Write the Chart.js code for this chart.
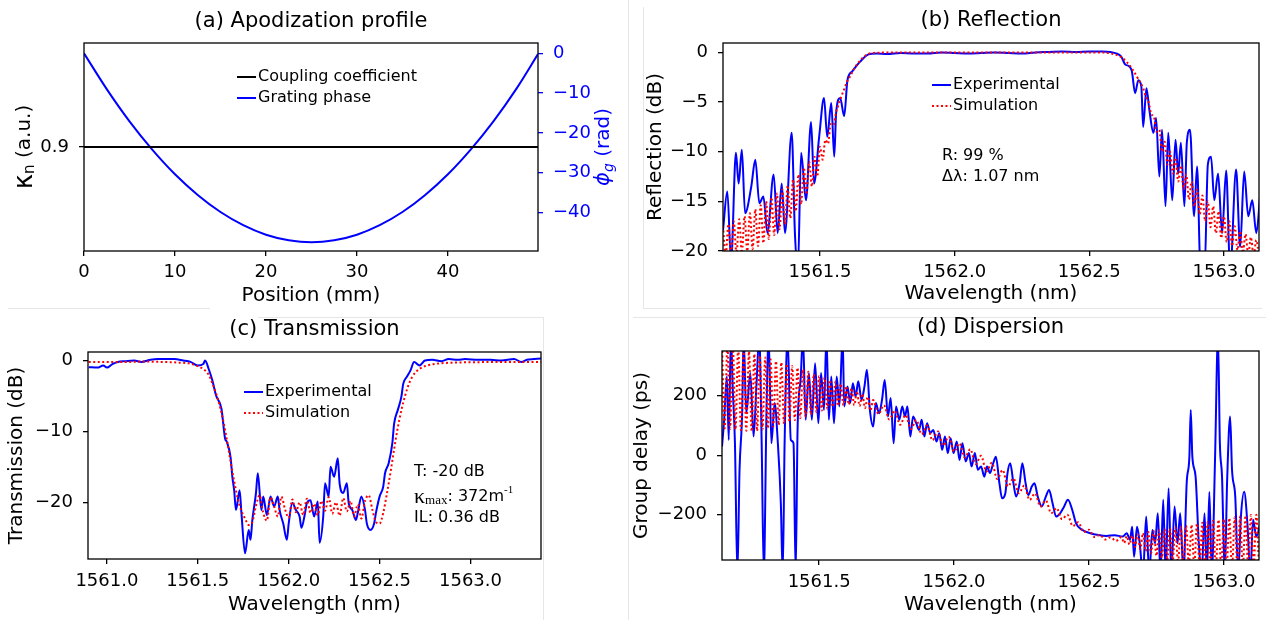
<!DOCTYPE html>
<html>
<head>
<meta charset="utf-8">
<script src="https://cdn.jsdelivr.net/npm/chart.js@4.4.1/dist/chart.umd.min.js"></script>
<style>
  body { margin: 0; background: #fff; width: 1266px; height: 620px; position: relative; overflow: hidden; }
  .panel { position: absolute; width: 633px; height: 310px; }
  .sep { position: absolute; background: #e6e6e6; }
</style>
</head>
<body>
<div class="sep" style="left:628px;top:0;width:1px;height:620px"></div>
<div class="sep" style="left:643px;top:7px;width:1px;height:301px"></div>
<div class="sep" style="left:643px;top:308px;width:619px;height:1px"></div>
<div class="sep" style="left:633px;top:317px;width:633px;height:1px"></div>
<div class="sep" style="left:8px;top:308px;width:202px;height:1px"></div>
<div class="sep" style="left:258px;top:317px;width:285px;height:1px"></div>
<div class="sep" style="left:543px;top:317px;width:1px;height:303px"></div>

<div class="panel" style="left:0;top:0"><canvas id="pa" width="633" height="310"></canvas></div>
<div class="panel" style="left:633px;top:0"><canvas id="pb" width="633" height="310"></canvas></div>
<div class="panel" style="left:0;top:310px"><canvas id="pc" width="633" height="310"></canvas></div>
<div class="panel" style="left:633px;top:310px"><canvas id="pd" width="633" height="310"></canvas></div>

<script>
// ---- (a) apodization profile ----
const posMm = [0, 2.5, 5, 7.5, 10, 12.5, 15, 17.5, 20, 22.5, 25, 27.5, 30, 32.5, 35, 37.5, 40, 42.5, 45, 47.5, 49.9];
const phaseRad = [0, -9.0, -17.1, -24.2, -30.4, -35.6, -39.9, -43.2, -45.6, -47.0, -47.5, -47.0, -45.6, -43.2, -39.9, -35.6, -30.4, -24.2, -17.1, -9.0, -0.2];
const kappaPos = [0, 49.9];
const kappaVal = [0.9, 0.9];
const kappaTicks = [0.9];
const posTicks = [0, 10, 20, 30, 40];

// ---- (b) reflection ----
const reflExpWl = [
  1561.14, 1561.156, 1561.17, 1561.188, 1561.198, 1561.21, 1561.222, 1561.245, 1561.26, 1561.275, 1561.29,
  1561.305, 1561.328, 1561.343, 1561.358, 1561.37, 1561.395, 1561.407, 1561.418, 1561.43, 1561.448,
  1561.467, 1561.478, 1561.497, 1561.515, 1561.527, 1561.542, 1561.553, 1561.56, 1561.575, 1561.59,
  1561.602, 1561.62, 1561.65, 1561.68, 1561.71, 1561.75, 1561.80, 1561.85, 1561.90, 1561.95,
  1562.00, 1562.05, 1562.10, 1562.15, 1562.20, 1562.25, 1562.30, 1562.35, 1562.40, 1562.45,
  1562.50, 1562.55, 1562.60, 1562.618, 1562.633, 1562.648, 1562.658, 1562.67, 1562.682, 1562.693,
  1562.70, 1562.712, 1562.723, 1562.738, 1562.748, 1562.76, 1562.77, 1562.783, 1562.793, 1562.808,
  1562.82, 1562.83, 1562.84, 1562.853, 1562.862, 1562.874, 1562.889, 1562.90, 1562.913, 1562.928,
  1562.94, 1562.952, 1562.964, 1562.978, 1562.993, 1563.008, 1563.023, 1563.045, 1563.06, 1563.075,
  1563.09, 1563.105, 1563.12, 1563.135];
const reflExpDb = [
  -17.9, -14.0, -21, -10.1, -13.2, -9.8, -16.2, -13.5, -10.8, -15.2, -14.5,
  -18.2, -12.3, -18.2, -13.2, -18.2, -8.1, -18.2, -22, -10.1, -14.9,
  -7.0, -13.2, -8.5, -4.6, -8.5, -5.1, -10.5, -6.1, -4.6, -6.4,
  -2.8, -1.9, -0.9, -0.2, -0.1, -0.15, -0.05, -0.1, -0.1, 0,
  -0.05, -0.1, -0.05, 0, -0.05, -0.1, 0, 0.05, 0.1, 0.05,
  0.1, 0.1, -0.1, -0.4, -1.2, -1.4, -1.9, -4.1, -2.8, -3.4,
  -7.5, -3.6, -5.8, -8.1, -6.6, -12.5, -7.8, -15.5, -8.1, -14.9,
  -8.8, -12.2, -9.1, -15.5, -9.1, -7.8, -16.5, -11.5, -22, -22,
  -11.3, -10.5, -14.9, -12.2, -18.2, -11.9, -22, -11.8, -19.6, -12.0,
  -16.5, -14.9, -18.2, -14.2];
const reflSimWl = [
  1561.14, 1561.15, 1561.16, 1561.17, 1561.18, 1561.19, 1561.20, 1561.21, 1561.22, 1561.23,
  1561.24, 1561.25, 1561.26, 1561.27, 1561.28, 1561.29, 1561.30, 1561.31, 1561.32, 1561.33,
  1561.34, 1561.35, 1561.36, 1561.37, 1561.38, 1561.39, 1561.40, 1561.41, 1561.42, 1561.43,
  1561.44, 1561.45, 1561.46, 1561.47, 1561.48, 1561.49, 1561.50, 1561.51, 1561.52, 1561.53,
  1561.54, 1561.55, 1561.56, 1561.57, 1561.58, 1561.59, 1561.60, 1561.61, 1561.62, 1561.63,
  1561.64, 1561.65, 1561.66, 1561.67, 1561.68, 1561.70, 1561.80, 1562.00, 1562.20, 1562.40,
  1562.55, 1562.58, 1562.60, 1562.62, 1562.64, 1562.66, 1562.68, 1562.70, 1562.71, 1562.72,
  1562.73, 1562.74, 1562.75, 1562.76, 1562.77, 1562.78, 1562.79, 1562.80, 1562.81, 1562.82,
  1562.83, 1562.84, 1562.85, 1562.86, 1562.87, 1562.88, 1562.89, 1562.90, 1562.91, 1562.92,
  1562.93, 1562.94, 1562.95, 1562.96, 1562.97, 1562.98, 1562.99, 1563.00, 1563.01, 1563.02,
  1563.03, 1563.04, 1563.05, 1563.06, 1563.07, 1563.08, 1563.09, 1563.10, 1563.11, 1563.12,
  1563.13];
const reflSimDb = [
  -17.5, -20.5, -17.3, -20.4, -17.0, -20.3, -16.8, -20.2, -16.5, -20.0,
  -16.2, -19.8, -15.8, -19.5, -15.4, -19.2, -15.0, -18.8, -14.6, -18.4,
  -14.2, -17.8, -13.8, -17.3, -13.4, -16.7, -12.8, -16.0, -12.3, -15.3,
  -11.6, -14.3, -11.0, -13.5, -10.5, -12.5, -9.5, -10.8, -8.8, -9.2,
  -7.2, -7.3, -6.0, -5.2, -4.4, -3.7, -3.0, -2.5, -2.0, -1.5,
  -1.1, -0.8, -0.5, -0.3, -0.15, -0.05, 0, 0, 0, 0,
  0, -0.1, -0.25, -0.5, -1.0, -1.7, -2.6, -3.6, -4.5, -5.0,
  -6.2, -6.5, -8.0, -7.8, -10.0, -9.0, -11.3, -10.0, -12.2, -10.6,
  -13.0, -11.4, -13.8, -12.3, -14.8, -13.0, -15.5, -13.8, -16.3, -14.4,
  -17.0, -15.0, -17.6, -15.5, -18.2, -16.0, -18.7, -16.5, -19.1, -17.0,
  -19.5, -17.5, -19.9, -18.0, -20.2, -18.3, -20.4, -18.6, -20.5, -18.9,
  -20.6];

// ---- (c) transmission ----
const transExpWl = [
  1560.90, 1560.948, 1560.98, 1561.00, 1561.03, 1561.06, 1561.10, 1561.15, 1561.19, 1561.24,
  1561.28, 1561.33, 1561.37, 1561.42, 1561.46, 1561.50, 1561.53, 1561.54, 1561.56, 1561.58,
  1561.60, 1561.63, 1561.65, 1561.66, 1561.68, 1561.69, 1561.70, 1561.71, 1561.73, 1561.74,
  1561.76, 1561.78, 1561.79, 1561.80, 1561.82, 1561.83, 1561.85, 1561.86, 1561.88, 1561.90,
  1561.92, 1561.94, 1561.95, 1561.97, 1561.99, 1562.00, 1562.02, 1562.04, 1562.06, 1562.07,
  1562.09, 1562.10, 1562.12, 1562.14, 1562.16, 1562.17, 1562.19, 1562.20, 1562.22, 1562.23,
  1562.25, 1562.27, 1562.28, 1562.30, 1562.32, 1562.33, 1562.35, 1562.37, 1562.38, 1562.40,
  1562.42, 1562.43, 1562.45, 1562.47, 1562.48, 1562.50, 1562.52, 1562.53, 1562.55, 1562.57,
  1562.58, 1562.60, 1562.62, 1562.63, 1562.65, 1562.67, 1562.69, 1562.72, 1562.75, 1562.79,
  1562.84, 1562.88, 1562.93, 1562.97, 1563.04, 1563.11, 1563.17, 1563.24, 1563.28, 1563.31,
  1563.35, 1563.39];
const transExpDb = [
  -0.94, -1.0, -0.7, -1.0, -0.5, -0.2, -0.1, 0, -0.2, 0.1,
  0.2, 0.2, 0.2, 0, -0.2, -0.7, -0.5, 0, -1.2, -2.8,
  -4.9, -6.8, -11.0, -11.5, -13.6, -16.4, -18.3, -21.1, -18.3, -21.5,
  -27.2, -23.9, -25.3, -22.5, -18.7, -15.9, -21.1, -19.2, -21.8, -19.2,
  -20.6, -19.2, -21.1, -23.0, -25.3, -23.0, -20.1, -21.1, -22.0, -23.6,
  -21.5, -20.1, -19.7, -22.0, -19.9, -25.7, -22.0, -17.3, -19.2, -15.0,
  -16.4, -13.8, -17.3, -18.7, -17.3, -20.1, -21.1, -22.5, -21.5, -19.2,
  -21.1, -23.0, -23.9, -23.0, -21.5, -19.2, -17.8, -15.9, -14.5, -11.7,
  -8.9, -7.0, -5.1, -3.3, -2.3, -1.4, -0.2, -0.7, 0, 0.1,
  -0.1, 0.2, 0.1, 0.2, 0.1, 0.1, 0, 0.2, -0.2, 0.1,
  0.2, 0.3];
const transSimWl = [
  1560.90, 1561.00, 1561.10, 1561.20, 1561.30, 1561.40, 1561.45, 1561.50, 1561.53, 1561.56,
  1561.58, 1561.60, 1561.62, 1561.64, 1561.66, 1561.68, 1561.70, 1561.72, 1561.74, 1561.76,
  1561.78, 1561.80, 1561.82, 1561.84, 1561.86, 1561.88, 1561.90, 1561.92, 1561.94, 1561.96,
  1561.98, 1562.00, 1562.02, 1562.04, 1562.06, 1562.08, 1562.10, 1562.12, 1562.14, 1562.16,
  1562.18, 1562.20, 1562.22, 1562.24, 1562.26, 1562.28, 1562.30, 1562.32, 1562.34, 1562.36,
  1562.38, 1562.40, 1562.42, 1562.44, 1562.46, 1562.48, 1562.50, 1562.52, 1562.54, 1562.56,
  1562.58, 1562.60, 1562.62, 1562.64, 1562.66, 1562.68, 1562.70, 1562.74, 1562.80, 1562.90,
  1563.00, 1563.20, 1563.39];
const transSimDb = [
  -0.2, -0.2, -0.2, -0.15, -0.2, -0.3, -0.4, -0.8, -1.2, -2.0,
  -3.2, -4.6, -6.3, -8.5, -11.2, -14.2, -17.0, -19.5, -21.2, -22.3,
  -23.2, -22.8, -20.5, -19.0, -21.5, -22.6, -19.3, -20.6, -22.0, -19.2,
  -21.0, -22.2, -19.6, -21.4, -20.0, -21.8, -19.5, -21.5, -20.2, -21.8,
  -19.8, -21.2, -19.3, -21.6, -20.0, -21.9, -19.4, -21.3, -19.8, -22.0,
  -20.3, -22.3, -19.8, -19.0, -21.0, -22.8, -23.0, -21.5, -18.8, -15.8,
  -12.5, -9.5, -7.0, -5.0, -3.4, -2.3, -1.6, -0.9, -0.5, -0.3,
  -0.25, -0.2, -0.2];

// ---- (d) dispersion ----
const dispExpWl = [
  1561.14, 1561.148, 1561.158, 1561.165, 1561.173, 1561.18, 1561.188, 1561.197, 1561.205, 1561.215,
  1561.22, 1561.23, 1561.245, 1561.257, 1561.268, 1561.278, 1561.287, 1561.295, 1561.305, 1561.313,
  1561.323, 1561.335, 1561.347, 1561.358, 1561.365, 1561.372, 1561.383, 1561.395, 1561.405, 1561.413,
  1561.42, 1561.432, 1561.44, 1561.45, 1561.462, 1561.473, 1561.485, 1561.497, 1561.507, 1561.518,
  1561.527, 1561.536, 1561.545, 1561.555, 1561.565, 1561.575, 1561.587, 1561.593, 1561.605, 1561.615,
  1561.625, 1561.635, 1561.645, 1561.657, 1561.668, 1561.677, 1561.688, 1561.70, 1561.71, 1561.722,
  1561.733, 1561.743, 1561.755, 1561.765, 1561.776, 1561.785, 1561.797, 1561.808, 1561.818, 1561.827,
  1561.838, 1561.848, 1561.86, 1561.87, 1561.88, 1561.89, 1561.90, 1561.912, 1561.923, 1561.935,
  1561.945, 1561.956, 1561.966, 1561.977, 1561.987, 1561.998, 1562.01, 1562.02, 1562.031, 1562.043,
  1562.055, 1562.065, 1562.077, 1562.088, 1562.10, 1562.112, 1562.122, 1562.133, 1562.145, 1562.155,
  1562.168, 1562.178, 1562.19, 1562.198, 1562.208, 1562.22, 1562.23, 1562.243, 1562.253, 1562.265,
  1562.275, 1562.288, 1562.298, 1562.31, 1562.325, 1562.34, 1562.352, 1562.365, 1562.378, 1562.393,
  1562.408, 1562.422, 1562.438, 1562.452, 1562.475, 1562.505, 1562.535, 1562.565, 1562.595, 1562.625,
  1562.64, 1562.652, 1562.66, 1562.667, 1562.678, 1562.688, 1562.70, 1562.712, 1562.723, 1562.735,
  1562.745, 1562.755, 1562.765, 1562.775, 1562.784, 1562.795, 1562.805, 1562.817, 1562.828, 1562.838,
  1562.85, 1562.862, 1562.872, 1562.877, 1562.883, 1562.895, 1562.907, 1562.918, 1562.928, 1562.937,
  1562.946, 1562.955, 1562.967, 1562.978, 1562.985, 1562.993, 1563.003, 1563.012, 1563.023, 1563.03,
  1563.042, 1563.053, 1563.063, 1563.075, 1563.087, 1563.098, 1563.108, 1563.12, 1563.135];
const dispExpPs = [
  29, 119, 264, 51, 400, 220, 40, -400, -49, 152,
  400, 141, 276, 63, 242, 400, 40, -400, 152, 400,
  40, 175, 40, -161, -400, 40, 400, 51, 40, -400,
  85, 264, 400, 119, 276, 119, 309, 107, 276, 152,
  400, 119, 264, 107, 264, 164, 400, 164, 231, 175,
  242, 197, 248, 186, 231, 287, 152, 96, 175, 141,
  186, 253, 130, 192, 40, 164, 119, 164, 130, 164,
  63, 130, 107, 85, 119, 63, 107, 74, 85, 46,
  74, 18, 63, 7, 57, 7, 46, -16, 40, -21,
  7, -38, 7, -49, -38, -72, -38, -60, -27, -5,
  -94, -145, -128, -60, -27, -94, -139, -94, -27, -94,
  -134, -105, -94, -139, -172, -139, -117, -161, -206, -195,
  -172, -150, -184, -229, -251, -262, -268, -271, -269, -273,
  -262, -284, -240, -341, -240, -296, -400, -206, -400, -251,
  -296, -195, -400, -150, -400, -111, -400, -172, -296, -195,
  -400, -94, -5, 152, -5, -72, -296, -400, -195, -400,
  -123, -400, -16, 400, 40, -72, -400, -83, 130, -49,
  -139, -400, -206, -123, -229, -400, -217, -273, -229];
const dispSimWl = [
  1561.14, 1561.15, 1561.16, 1561.17, 1561.18, 1561.19, 1561.20, 1561.21, 1561.22, 1561.23,
  1561.24, 1561.25, 1561.26, 1561.27, 1561.28, 1561.29, 1561.30, 1561.31, 1561.32, 1561.33,
  1561.34, 1561.35, 1561.36, 1561.37, 1561.38, 1561.39, 1561.40, 1561.41, 1561.42, 1561.43,
  1561.44, 1561.45, 1561.46, 1561.47, 1561.48, 1561.49, 1561.50, 1561.51, 1561.52, 1561.53,
  1561.54, 1561.55, 1561.56, 1561.57, 1561.58, 1561.59, 1561.60, 1561.61, 1561.62, 1561.63,
  1561.64, 1561.65, 1561.66, 1561.67, 1561.68, 1561.69, 1561.70, 1561.72, 1561.74, 1561.76,
  1561.78, 1561.80, 1561.82, 1561.84, 1561.86, 1561.88, 1561.90, 1561.92, 1561.94, 1561.96,
  1561.98, 1562.00, 1562.02, 1562.04, 1562.06, 1562.08, 1562.10, 1562.12, 1562.14, 1562.16,
  1562.18, 1562.20, 1562.22, 1562.24, 1562.26, 1562.28, 1562.30, 1562.32, 1562.34, 1562.36,
  1562.38, 1562.40, 1562.42, 1562.44, 1562.46, 1562.48, 1562.50, 1562.52, 1562.54, 1562.56,
  1562.58, 1562.60, 1562.62, 1562.63, 1562.64, 1562.65, 1562.66, 1562.67, 1562.68, 1562.69,
  1562.70, 1562.71, 1562.72, 1562.73, 1562.74, 1562.75, 1562.76, 1562.77, 1562.78, 1562.79,
  1562.80, 1562.81, 1562.82, 1562.83, 1562.84, 1562.85, 1562.86, 1562.87, 1562.88, 1562.89,
  1562.90, 1562.91, 1562.92, 1562.93, 1562.94, 1562.95, 1562.96, 1562.97, 1562.98, 1562.99,
  1563.00, 1563.01, 1563.02, 1563.03, 1563.04, 1563.05, 1563.06, 1563.07, 1563.08, 1563.09,
  1563.10, 1563.11, 1563.12, 1563.13];
const dispSimPs = [
  380, 90, 375, 88, 370, 86, 362, 84, 355, 82,
  348, 80, 340, 82, 334, 86, 328, 90, 322, 96,
  316, 102, 312, 106, 306, 112, 300, 118, 294, 124,
  288, 130, 280, 136, 272, 145, 266, 150, 260, 156,
  252, 162, 246, 166, 240, 168, 232, 170, 225, 168,
  215, 165, 206, 158, 196, 150, 185, 138, 168, 120,
  150, 102, 135, 88, 118, 70, 100, 50, 80, 32,
  62, 12, 40, -8, 20, -30, -2, -55, -25, -80,
  -50, -105, -78, -128, -102, -150, -128, -172, -152, -195,
  -178, -215, -200, -238, -225, -258, -250, -275, -268, -283,
  -276, -288, -275, -295, -272, -300, -270, -308, -266, -315,
  -262, -322, -258, -330, -255, -338, -252, -345, -248, -352,
  -246, -358, -243, -362, -240, -366, -237, -370, -234, -373,
  -230, -376, -227, -378, -224, -380, -220, -380, -217, -380,
  -214, -380, -211, -380, -208, -380, -205, -380, -203, -380,
  -201, -380, -200, -380];

// ---------------------------------------------------------------
Chart.defaults.font.family = '"DejaVu Sans", sans-serif';
Chart.defaults.color = '#000';

const BLUE = '#0000ff';
const RED = '#ff0000';
const NOTE_FONT = '16px "DejaVu Sans"';

const fmt = (v, d) => (v < 0 ? '\u2212' : '') + Math.abs(v).toFixed(d);
const pts = (xs, ys) => xs.map((x, i) => ({ x: x, y: ys[i] }));

// text made of several runs (sub/superscripts), optionally rotated
function drawRuns(ctx, x, y, parts, rot, align) {
  ctx.save();
  ctx.translate(x, y);
  if (rot) ctx.rotate(rot);
  ctx.textBaseline = 'middle';
  ctx.textAlign = 'left';
  let w = 0;
  parts.forEach(p => { ctx.font = p.f || NOTE_FONT; w += ctx.measureText(p.t).width; });
  let cx = align === 'center' ? -w / 2 : 0;
  parts.forEach(p => {
    ctx.font = p.f || NOTE_FONT;
    ctx.fillStyle = p.c || '#000';
    ctx.fillText(p.t, cx, p.dy || 0);
    cx += ctx.measureText(p.t).width;
  });
  ctx.restore();
}

// frame, panel title, legend and notes
function decor(o) {
  return {
    id: 'decor',
    afterDraw(chart) {
      const ctx = chart.ctx, a = chart.chartArea;
      ctx.save();
      ctx.strokeStyle = '#000';
      ctx.lineWidth = 1.3;
      ctx.strokeRect(a.left, a.top, a.right - a.left, a.bottom - a.top);

      ctx.fillStyle = '#000';
      ctx.font = '21px "DejaVu Sans"';
      ctx.textAlign = 'center';
      ctx.textBaseline = 'middle';
      ctx.fillText(o.title, (a.left + a.right) / 2, o.titleY);

      (o.legend || []).forEach((dsIndex, i) => {
        const ds = chart.data.datasets[dsIndex];
        const y = o.legY[i];
        ctx.strokeStyle = ds.borderColor;
        ctx.lineWidth = ds.borderWidth;
        ctx.setLineDash(ds.borderDash || []);
        ctx.beginPath();
        ctx.moveTo(o.legX, y);
        ctx.lineTo(o.legX + 19, y);
        ctx.stroke();
        ctx.setLineDash([]);
        ctx.fillStyle = '#000';
        ctx.font = NOTE_FONT;
        ctx.textAlign = 'left';
        ctx.fillText(ds.label, o.legX + 21, y);
      });

      (o.notes || []).forEach(n => drawRuns(ctx, n.x, n.y, n.parts, 0, 'left'));
      (o.extra || []).forEach(fn => fn(ctx, a));
      ctx.restore();
    }
  };
}

function axis(o) {
  const s = {
    type: 'linear',
    position: o.pos,
    min: o.min,
    max: o.max,
    ticks: {
      stepSize: o.step, includeBounds: false, autoSkip: false, maxRotation: 0,
      color: o.color || '#000', font: { size: 18 }, padding: o.pad,
      callback: v => fmt(v, o.dec)
    },
    grid: { drawOnChartArea: false, color: o.color || '#000', lineWidth: 1.3, tickLength: 5 },
    border: { display: false },
    title: o.title
      ? { display: true, text: o.title, color: '#000', font: { size: 20 }, padding: o.tpad }
      : { display: false },
    afterFit: sc => { if (sc.isHorizontal()) sc.height = o.size; else sc.width = o.size; }
  };
  if (o.tickList) s.afterBuildTicks = sc => { sc.ticks = o.tickList.map(v => ({ value: v })); };
  return s;
}

function panel(id, cfg) {
  return new Chart(document.getElementById(id), {
    type: 'line',
    data: { datasets: cfg.datasets },
    options: {
      responsive: false,
      animation: false,
      events: [],
      layout: { padding: cfg.padding },
      plugins: { legend: { display: false }, tooltip: { enabled: false } },
      elements: {
        point: { radius: 0 },
        line: { cubicInterpolationMode: 'monotone', borderCapStyle: 'butt', fill: false }
      },
      scales: cfg.scales
    },
    plugins: [decor(cfg.decor)]
  });
}

const expSet = (xs, ys) => ({ label: 'Experimental', data: pts(xs, ys), borderColor: BLUE, borderWidth: 2, order: 2 });
const simSet = (xs, ys) => ({ label: 'Simulation', data: pts(xs, ys), borderColor: RED, borderWidth: 2, borderDash: [2, 2.5], order: 1 });

// (a)
panel('pa', {
  padding: { left: 0, top: 43, right: 0, bottom: 0 },
  datasets: [
    { label: 'Coupling coefficient', data: pts(kappaPos, kappaVal), borderColor: '#000', borderWidth: 2, yAxisID: 'yk' },
    { label: 'Grating phase', data: pts(posMm, phaseRad), borderColor: BLUE, borderWidth: 2, yAxisID: 'yp' }
  ],
  scales: {
    x: axis({ pos: 'bottom', min: 0, max: 49.9, dec: 0, pad: 6, size: 59, tickList: posTicks,
              title: 'Position (mm)', tpad: { top: 0, bottom: 2 } }),
    yk: axis({ pos: 'left', min: 0.855, max: 0.945, dec: 1, pad: 10, size: 84, tickList: kappaTicks }),
    yp: axis({ pos: 'right', min: -49.7, max: 2.6, step: 10, dec: 0, pad: 10, size: 95, color: BLUE })
  },
  decor: {
    title: '(a) Apodization profile', titleY: 21.5,
    legend: [0, 1], legX: 237, legY: [77, 98],
    extra: [
      (ctx, a) => drawRuns(ctx, 25, (a.top + a.bottom) / 2, [
        { t: '\u03ba', f: '26px "DejaVu Sans"' },
        { t: 'n', f: '15px "DejaVu Sans"', dy: 5 },
        { t: ' (a.u.)', f: '20px "DejaVu Sans"' }
      ], -Math.PI / 2, 'center'),
      (ctx, a) => drawRuns(ctx, 604, (a.top + a.bottom) / 2, [
        { t: '\u03d5', f: 'italic 21px "DejaVu Sans"', c: BLUE },
        { t: 'g', f: 'italic 14px "DejaVu Sans"', c: BLUE, dy: 5 },
        { t: ' (rad)', f: '20px "DejaVu Sans"', c: BLUE }
      ], -Math.PI / 2, 'center')
    ]
  }
});

// (b)
panel('pb', {
  padding: { left: 0, top: 43, right: 7, bottom: 0 },
  datasets: [expSet(reflExpWl, reflExpDb), simSet(reflSimWl, reflSimDb)],
  scales: {
    x: axis({ pos: 'bottom', min: 1561.14, max: 1563.13, step: 0.5, dec: 1, pad: 6, size: 59,
              title: 'Wavelength (nm)', tpad: { top: 0, bottom: 4 } }),
    y: axis({ pos: 'left', min: -20, max: 0.95, step: 5, dec: 0, pad: 10, size: 90,
              title: 'Reflection (dB)', tpad: { top: 11, bottom: 0 } })
  },
  decor: {
    title: '(b) Reflection', titleY: 21,
    legend: [0, 1], legX: 299, legY: [85, 106],
    notes: [
      { x: 309, y: 156, parts: [{ t: 'R: 99 %' }] },
      { x: 309, y: 177, parts: [{ t: '\u0394\u03bb: 1.07 nm' }] }
    ]
  }
});

// (c)
panel('pc', {
  padding: { left: 0, top: 42, right: 92, bottom: 0 },
  datasets: [expSet(transExpWl, transExpDb), simSet(transSimWl, transSimDb)],
  scales: {
    x: axis({ pos: 'bottom', min: 1560.896, max: 1563.388, step: 0.5, dec: 1, pad: 7, size: 61,
              title: 'Wavelength (nm)', tpad: { top: 0, bottom: 3 } }),
    y: axis({ pos: 'left', min: -28, max: 1.2, step: 10, dec: 0, pad: 10, size: 88,
              title: 'Transmission (dB)', tpad: { top: 5, bottom: 0 } })
  },
  decor: {
    title: '(c) Transmission', titleY: 20,
    legend: [0, 1], legX: 244, legY: [82, 103],
    notes: [
      { x: 414, y: 162, parts: [{ t: 'T: -20 dB' }] },
      { x: 414, y: 187, parts: [
        { t: '\u03ba', f: '22px "Liberation Serif"' },
        { t: 'max', f: '13px "Liberation Serif"', dy: 4 },
        { t: ': 372m' },
        { t: '-1', f: '11px "Liberation Serif"', dy: -7 }
      ] },
      { x: 414, y: 208, parts: [{ t: 'IL: 0.36 dB' }] }
    ]
  }
});

// (d)
panel('pd', {
  padding: { left: 0, top: 41, right: 7, bottom: 0 },
  datasets: [expSet(dispExpWl, dispExpPs), simSet(dispSimWl, dispSimPs)],
  scales: {
    x: axis({ pos: 'bottom', min: 1561.14, max: 1563.13, step: 0.5, dec: 1, pad: 7, size: 60,
              title: 'Wavelength (nm)', tpad: { top: 0, bottom: 3 } }),
    y: axis({ pos: 'left', min: -352, max: 350, step: 200, dec: 0, pad: 10, size: 89,
              title: 'Group delay (ps)', tpad: { top: -3, bottom: 0 } })
  },
  decor: { title: '(d) Dispersion', titleY: 18 }
});
</script>
</body>
</html>
